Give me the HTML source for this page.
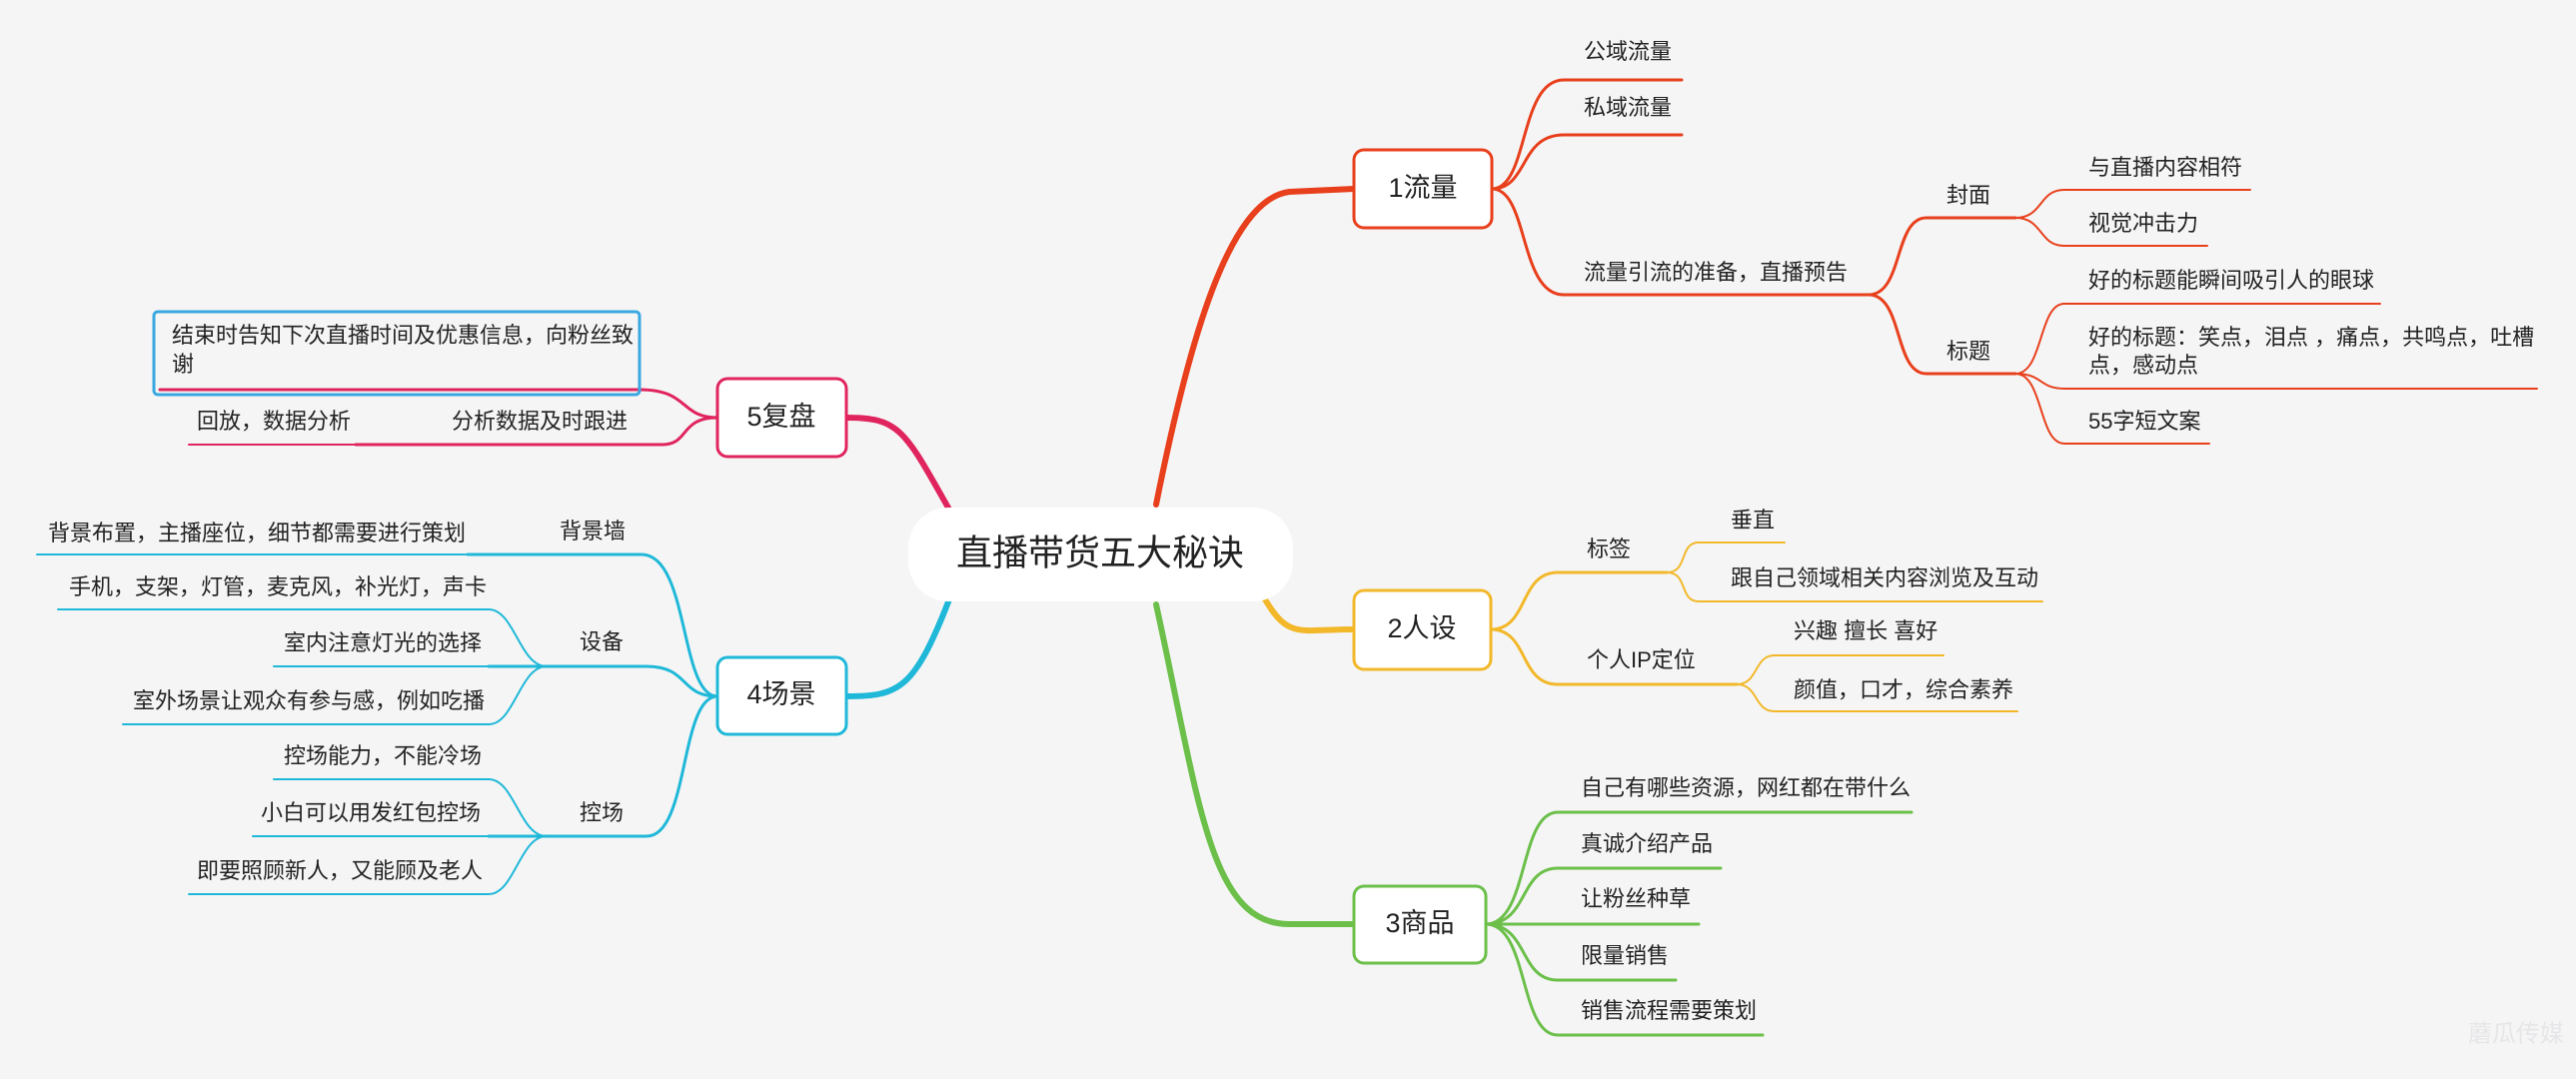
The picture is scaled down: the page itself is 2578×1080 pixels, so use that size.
<!DOCTYPE html>
<html><head><meta charset="utf-8"><style>
html,body{margin:0;padding:0;background:#f5f5f6;}
svg{display:block}
text{font-family:"Liberation Sans","Noto Sans CJK SC",sans-serif;fill:#222;font-size:22px;dominant-baseline:middle}
</style></head><body>
<svg width="2578" height="1080" viewBox="0 0 2578 1080" xmlns="http://www.w3.org/2000/svg">
<rect width="2578" height="1080" fill="#f5f5f6"/>
<g fill="none" stroke-linecap="round">
<path d="M1157,505 C1190,340 1230,200 1290,192 L1355,189" stroke="#e8401c" stroke-width="6"/>
<path d="M1266,600 C1290,640 1300,630 1355,630" stroke="#f2b82a" stroke-width="6"/>
<path d="M1157,605 C1200,800 1210,925 1290,925 L1355,925" stroke="#6cc04a" stroke-width="6"/>
<path d="M847,418 C900,418 905,430 950,510" stroke="#e0245e" stroke-width="6"/>
<path d="M847,697 C900,697 915,690 950,600" stroke="#1fb8d8" stroke-width="6"/>
<g stroke="#e8401c" stroke-width="3">
<path d="M1493,189 C1530,189 1520,80 1565,80 L1683,80"/>
<path d="M1493,189 C1530,189 1520,135 1565,135 L1683,135"/>
<path d="M1493,189 C1530,189 1520,295 1565,295 L1870,295"/>
<path d="M1870,295 C1905,295 1895,218 1928,218 L2017,218"/>
<path d="M1870,295 C1905,295 1895,374 1928,374 L2017,374"/>
<path d="M2017,218 C2045,218 2040,190 2066,190 L2252,190" stroke-width="2"/>
<path d="M2017,218 C2045,218 2040,246 2066,246 L2209,246" stroke-width="2"/>
<path d="M2017,374 C2045,374 2040,304 2066,304 L2382,304" stroke-width="2"/>
<path d="M2017,374 C2045,374 2040,389 2066,389 L2539,389" stroke-width="2"/>
<path d="M2017,374 C2045,374 2040,444 2066,444 L2211,444" stroke-width="2"/>
</g>
<g stroke="#f2b82a" stroke-width="3">
<path d="M1492,630 C1530,630 1520,573 1559,573 L1668,573"/>
<path d="M1492,630 C1530,630 1520,685 1559,685 L1738,685"/>
<path d="M1668,573 C1690,573 1680,543 1700,543 L1786,543" stroke-width="2"/>
<path d="M1668,573 C1690,573 1680,602 1700,602 L2044,602" stroke-width="2"/>
<path d="M1738,685 C1760,685 1755,656 1776,656 L1945,656" stroke-width="2"/>
<path d="M1738,685 C1760,685 1755,712 1776,712 L2019,712" stroke-width="2"/>
</g>
<g stroke="#6cc04a" stroke-width="3">
<path d="M1487,925 C1530,925 1520,813 1559,813 L1913,813"/>
<path d="M1487,925 C1530,925 1520,869 1559,869 L1722,869"/>
<path d="M1487,925 L1700,925"/>
<path d="M1487,925 C1530,925 1520,981 1559,981 L1677,981"/>
<path d="M1487,925 C1530,925 1520,1036 1559,1036 L1764,1036"/>
</g>
<g stroke="#e0245e" stroke-width="3">
<path d="M718,418 C680,418 690,390 640,390 L160,390"/>
<path d="M718,418 C680,418 690,445 663,445 L356,445"/>
<path d="M356,445 L189,445" stroke-width="2"/>
</g>
<g stroke="#1fb8d8" stroke-width="3">
<path d="M718,697 C680,697 690,555 642,555 L468,555"/>
<path d="M718,697 C680,697 690,667 647,667 L489,667"/>
<path d="M718,697 C680,697 690,837 647,837 L489,837"/>
<path d="M468,555 L37,555" stroke-width="2"/>
<path d="M547,667 C520,667 515,610 489,610 L58,610" stroke-width="2"/>
<path d="M489,667 L274,667" stroke-width="2"/>
<path d="M547,667 C520,667 515,725 489,725 L123,725" stroke-width="2"/>
<path d="M547,837 C520,837 515,780 489,780 L274,780" stroke-width="2"/>
<path d="M489,837 L253,837" stroke-width="2"/>
<path d="M547,837 C520,837 515,895 489,895 L189,895" stroke-width="2"/>
</g>
</g>
<rect x="909" y="508" width="385" height="94" rx="40" fill="#fff"/>
<text x="1101" y="556" text-anchor="middle" style="font-size:36px">直播带货五大秘诀</text>
<g fill="#fff" stroke-width="3">
<rect x="1355" y="150" width="138" height="78" rx="10" stroke="#e8401c"/>
<rect x="1355" y="591" width="137" height="79" rx="10" stroke="#f2b82a"/>
<rect x="1355" y="887" width="132" height="77" rx="10" stroke="#6cc04a"/>
<rect x="718" y="379" width="129" height="78" rx="10" stroke="#e0245e"/>
<rect x="718" y="658" width="129" height="77" rx="10" stroke="#1fb8d8"/>
<rect x="154" y="312" width="486" height="83" rx="4" fill="none" stroke="#3aa8e0"/>
</g>
<g text-anchor="middle">
<text x="1424" y="190" style="font-size:27px">1流量</text>
<text x="1423" y="631" style="font-size:27px">2人设</text>
<text x="1421" y="926" style="font-size:27px">3商品</text>
<text x="782" y="419" style="font-size:27px">5复盘</text>
<text x="782" y="697" style="font-size:27px">4场景</text>
</g>
<text x="1585" y="53">公域流量</text>
<text x="1585" y="109">私域流量</text>
<text x="1585" y="274">流量引流的准备，直播预告</text>
<text x="1948" y="197">封面</text>
<text x="1948" y="353">标题</text>
<text x="2090" y="169">与直播内容相符</text>
<text x="2090" y="225">视觉冲击力</text>
<text x="2090" y="282">好的标题能瞬间吸引人的眼球</text>
<text x="2090" y="339">好的标题：笑点，泪点 ，痛点，共鸣点，吐槽</text>
<text x="2090" y="367">点，感动点</text>
<text x="2090" y="423">55字短文案</text>
<text x="1588" y="551">标签</text>
<text x="1732" y="522">垂直</text>
<text x="1732" y="580">跟自己领域相关内容浏览及互动</text>
<text x="1588" y="662">个人IP定位</text>
<text x="1795" y="633">兴趣 擅长 喜好</text>
<text x="1795" y="692">颜值，口才，综合素养</text>
<text x="1582" y="790">自己有哪些资源，网红都在带什么</text>
<text x="1582" y="846">真诚介绍产品</text>
<text x="1582" y="901">让粉丝种草</text>
<text x="1582" y="958">限量销售</text>
<text x="1582" y="1013">销售流程需要策划</text>
<text x="172" y="337">结束时告知下次直播时间及优惠信息，向粉丝致</text>
<text x="172" y="366">谢</text>
<text x="197" y="423">回放，数据分析</text>
<text x="452" y="423">分析数据及时跟进</text>
<text x="560" y="533">背景墙</text>
<text x="48" y="535">背景布置，主播座位，细节都需要进行策划</text>
<text x="580" y="644">设备</text>
<text x="69" y="589">手机，支架，灯管，麦克风，补光灯，声卡</text>
<text x="284" y="645">室内注意灯光的选择</text>
<text x="133" y="703">室外场景让观众有参与感，例如吃播</text>
<text x="580" y="815">控场</text>
<text x="284" y="758">控场能力，不能冷场</text>
<text x="261" y="815">小白可以用发红包控场</text>
<text x="197" y="873">即要照顾新人，又能顾及老人</text>
<text x="2470" y="1036" style="fill:#e6e6e8;font-size:24px">蘑瓜传媒</text>
</svg>
</body></html>
